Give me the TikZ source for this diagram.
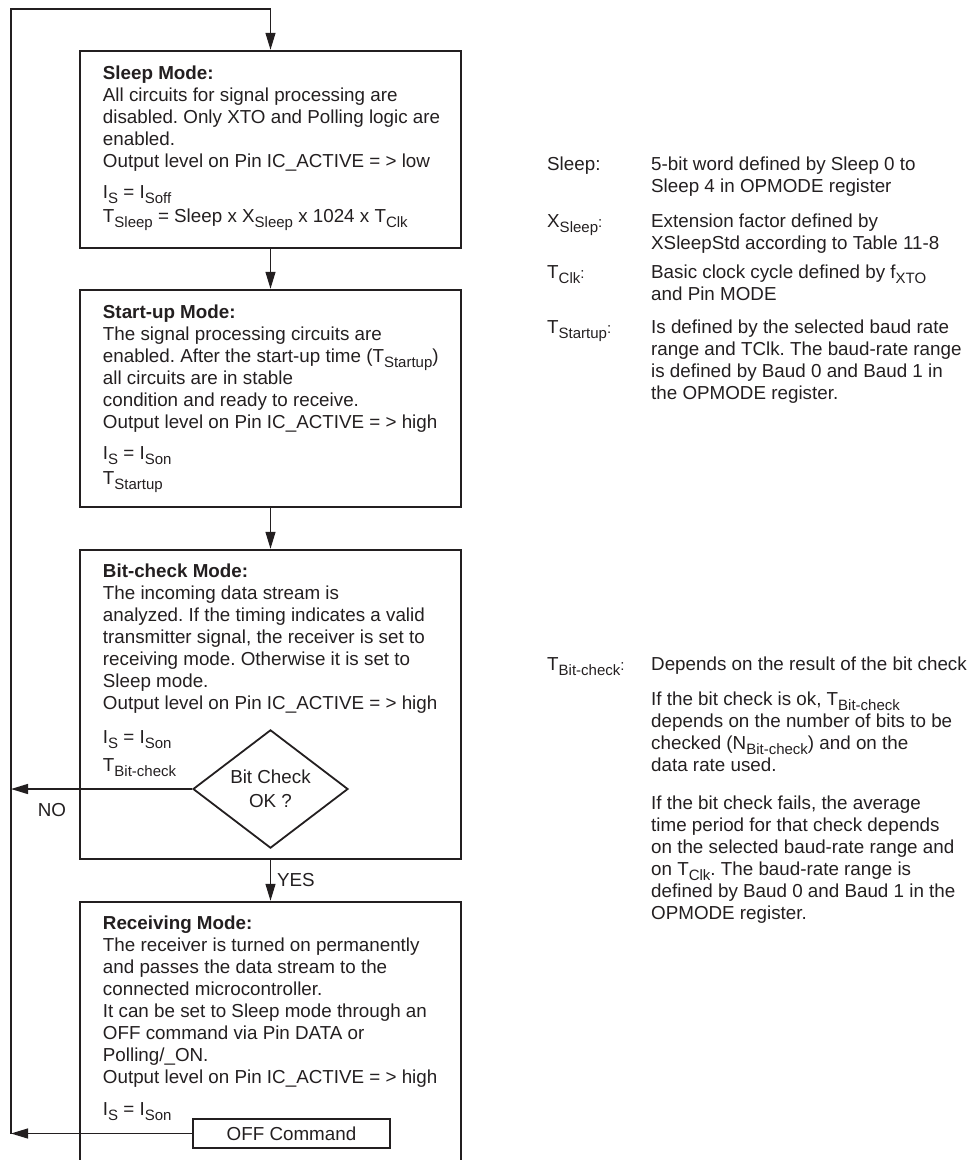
\documentclass[tikz,border=0pt]{standalone}
\usepackage{fontspec}
\setmainfont{Liberation Sans}
\usetikzlibrary{arrows.meta,shapes.geometric}
\definecolor{inkblack}{RGB}{35, 31, 32}
\newcommand{\lo}[1]{\raisebox{-5pt}{\fontsize{15}{15}\selectfont #1}}
\newcommand{\smcolon}{{\fontsize{15}{15}\selectfont :}}
\tikzstyle{modebox} = [
  draw=inkblack,
  line width=2.5pt,
  minimum width=381pt,
  inner sep=0pt,
]
\tikzstyle{modetext} = [
  anchor=north west,
  inner sep=0pt,
  align=left,
  text=inkblack,
  font=\fontsize{18.8}{22}\selectfont\frenchspacing,
]
\tikzstyle{notelabel} = [
  anchor=base west,
  inner sep=0pt,
  text=inkblack,
  font=\fontsize{18.8}{22}\selectfont\frenchspacing,
]
\tikzstyle{decision} = [
  diamond,
  draw=inkblack,
  line width=1.8pt,
  minimum width=155pt,
  minimum height=113pt,
  inner sep=0pt,
  align=center,
  text=inkblack,
  font=\fontsize{18.8}{24}\selectfont,
]
\tikzstyle{cmdbox} = [
  draw=inkblack,
  line width=1.5pt,
  minimum width=197pt,
  minimum height=29pt,
  inner sep=0pt,
  text=inkblack,
  font=\fontsize{18.8}{22}\selectfont,
]
\tikzstyle{flowlabel} = [
  inner sep=0pt,
  text=inkblack,
  font=\fontsize{18.8}{22}\selectfont,
]
\tikzstyle{flow} = [
  draw=inkblack,
  line width=1.3pt,
  -{Triangle[length=17pt,width=10pt]},
]

\begin{document}
\frenchspacing
\begin{tikzpicture}[x=1pt,y=-1pt]
  \useasboundingbox (0,0) rectangle (971,1160);
  \clip (0,0) rectangle (971,1160);

  \coordinate (looptop) at (11,9);

  % Mode boxes
  \node[modebox, minimum height=197pt] (sleep) at (270.5,149.5) {};
  \node[modebox, minimum height=217pt] (startup) at (270.5,398.5) {};
  \node[modebox, minimum height=309pt] (bitcheck) at (270.5,704.5) {};
  \node[modebox, minimum height=290pt] (receiving) at (270.5,1047) {};

  % Box texts
  \node[modetext] (sleep text) at ([xshift=24pt,yshift=-15.5pt]sleep.north west) {%
    \textbf{Sleep Mode:}\\
    All circuits for signal processing are\\
    disabled. Only XTO and Polling logic are\\
    enabled.\\
    Output level on Pin IC\_ACTIVE = > low\\[9pt]
    I\lo{S} = I\lo{Soff}\\[2pt]
    T\lo{Sleep} = Sleep x X\lo{Sleep} x 1024 x T\lo{Clk}};
  \node[modetext] (startup text) at ([xshift=24pt,yshift=-15.5pt]startup.north west) {%
    \textbf{Start-up Mode:}\\
    The signal processing circuits are\\
    enabled. After the start-up time (T\lo{Startup})\\
    all circuits are in stable\\
    condition and ready to receive.\\
    Output level on Pin IC\_ACTIVE = > high\\[9pt]
    I\lo{S} = I\lo{Son}\\[3pt]
    T\lo{Startup}};
  \node[modetext] (bitcheck text) at ([xshift=24pt,yshift=-15pt]bitcheck.north west) {%
    \textbf{Bit-check Mode:}\\
    The incoming data stream is\\
    analyzed. If the timing indicates a valid\\
    transmitter signal, the receiver is set to\\
    receiving mode. Otherwise it is set to\\
    Sleep mode.\\
    Output level on Pin IC\_ACTIVE = > high\\[12pt]
    I\lo{S} = I\lo{Son}\\[6pt]
    T\lo{Bit-check}};
  \node[modetext] (receiving text) at ([xshift=24pt,yshift=-15pt]receiving.north west) {%
    \textbf{Receiving Mode:}\\
    The receiver is turned on permanently\\
    and passes the data stream to the\\
    connected microcontroller.\\
    It can be set to Sleep mode through an\\
    OFF command via Pin DATA or\\
    Polling/\_ON.\\
    Output level on Pin IC\_ACTIVE = > high\\[10pt]
    I\lo{S} = I\lo{Son}};

  % Decision and command
  \node[decision] (check) at (270.5,789) {Bit Check\\OK ?};
  \node[cmdbox] (offcmd) at (291.5,1133.5) {OFF Command};

  % Flow arrows
  \draw[flow] (sleep.south) -- (startup.north);
  \draw[flow] (startup.south) -- (bitcheck.north);
  \draw[flow] (bitcheck.south) -- node[flowlabel, right=6pt] (yes) {YES} (receiving.north);
  \draw[flow] (check.west) -- (check.west -| looptop);
  \draw[flow] (offcmd.west) -- (offcmd.west -| looptop);
  \draw[flow] (offcmd.west -| looptop) -- (looptop) -| (sleep.north);
  \node[flowlabel] (no) at (52,810) {NO};

  % Notes
  \node[notelabel] (sleep key) at (547,170) {Sleep:};
  \node[modetext] (sleep note) at (651,156.5) {%
    5-bit word defined by Sleep 0 to\\
    Sleep 4 in OPMODE register};
  \node[notelabel] (xsleep key) at (547,227) {X\lo{Sleep}\smcolon};
  \node[modetext] (xsleep note) at (651,213.5) {%
    Extension factor defined by\\
    XSleepStd according to Table 11-8};
  \node[notelabel] (clk key) at (547,278) {T\lo{Clk}\smcolon};
  \node[modetext] (clk note) at (651,264.5) {%
    Basic clock cycle defined by f\lo{XTO}\\
    and Pin MODE};
  \node[notelabel] (startup key) at (547,333) {T\lo{Startup}\smcolon};
  \node[modetext] (startup note) at (651,319.5) {%
    Is defined by the selected baud rate\\
    range and TClk. The baud-rate range\\
    is defined by Baud 0 and Baud 1 in\\
    the OPMODE register.};
  \node[notelabel] (bitcheck key) at (547,670) {T\lo{Bit-check}\smcolon};
  \node[notelabel] (bitcheck note) at (651,670) {Depends on the result of the bit check};
  \node[modetext] (check ok note) at (651,691.5) {%
    If the bit check is ok, T\lo{Bit-check}\\
    depends on the number of bits to be\\
    checked (N\lo{Bit-check}) and on the\\
    data rate used.};
  \node[modetext] (check fail note) at (651,795.5) {%
    If the bit check fails, the average\\
    time period for that check depends\\
    on the selected baud-rate range and\\
    on T\lo{Clk}. The baud-rate range is\\
    defined by Baud 0 and Baud 1 in the\\
    OPMODE register.};
\end{tikzpicture}
\end{document}
